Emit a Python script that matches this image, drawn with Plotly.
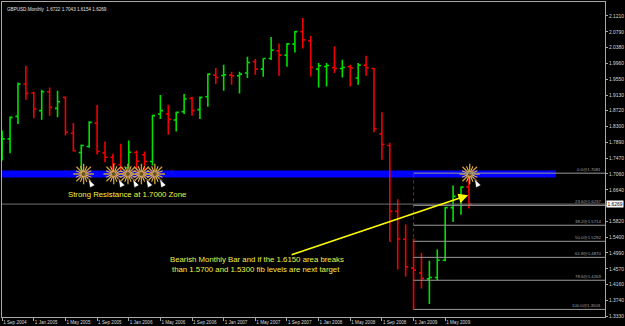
import plotly.graph_objects as go
import pandas as pd

# ---------------- data ----------------
months = [str(p) for p in pd.period_range("2004-09", "2009-08", freq="M")]

opens = [1.7676, 1.7982, 1.8573, 1.9422, 1.9186, 1.8723, 1.9220, 1.8783, 1.9071, 1.8128,
         1.7623, 1.7780, 1.8390, 1.7615, 1.7500, 1.7301, 1.7223, 1.7623, 1.7563, 1.7388,
         1.8636, 1.8636, 1.8479, 1.8697, 1.9045, 1.8749, 1.9089, 1.9657, 1.9647, 1.9657,
         1.9639, 1.9710, 2.0005, 1.9814, 2.0092, 2.0293, 2.0181, 2.0469, 2.0799, 2.0555,
         1.9814, 1.9882, 1.9856, 1.9830, 1.9875, 1.9579, 1.9919, 1.9830, 1.8113, 1.7806,
         1.6079, 1.5346, 1.4587, 1.4464, 1.4306, 1.4343, 1.4796, 1.6176, 1.6471, 1.6722]
highs = [1.8199, 1.8566, 1.9464, 1.9901, 1.9220, 1.9272, 1.9333, 1.9246, 1.9089, 1.8401,
         1.7833, 1.8443, 1.8872, 1.7911, 1.7589, 1.7851, 1.7937, 1.7676, 1.7649, 1.8618,
         1.9134, 1.8880, 1.8697, 1.9160, 1.9089, 1.9097, 1.9699, 1.9841, 1.9927, 1.9744,
         1.9744, 2.0136, 2.0076, 2.0102, 2.0660, 2.0485, 2.0495, 2.0817, 2.1157, 2.0686,
         1.9971, 1.9971, 2.0406, 2.0058, 1.9927, 1.9971, 2.0162, 1.9841, 1.8678, 1.7877,
         1.6393, 1.5731, 1.5364, 1.4987, 1.4778, 1.5076, 1.6191, 1.6759, 1.6733, 1.7043]
lows = [1.7414, 1.7605, 1.8375, 1.9011, 1.8521, 1.8487, 1.8592, 1.8547, 1.8068, 1.7649,
        1.7060, 1.7746, 1.7571, 1.7369, 1.7100, 1.7152, 1.7197, 1.7152, 1.7152, 1.7283,
        1.8505, 1.8087, 1.8173, 1.8636, 1.8592, 1.8505, 1.8827, 1.9422, 1.9246, 1.9403,
        1.9176, 1.9579, 1.9665, 1.9613, 2.0050, 1.9639, 1.9875, 2.0249, 2.0354, 1.9621,
        1.9333, 1.9359, 1.9710, 1.9595, 1.9359, 1.9403, 1.9639, 1.8155, 1.7432, 1.5275,
        1.4553, 1.4359, 1.3503, 1.4055, 1.3644, 1.4272, 1.4770, 1.5799, 1.5992, 1.6154]
closes = [1.7982, 1.8547, 1.9422, 1.9176, 1.8767, 1.9220, 1.8809, 1.8958, 1.8155, 1.7668,
          1.7806, 1.8416, 1.7649, 1.7500, 1.7327, 1.7231, 1.7631, 1.7395, 1.7388, 1.8592,
          1.8723, 1.8495, 1.8678, 1.9029, 1.8723, 1.9071, 1.9683, 1.9595, 1.9665, 1.9639,
          1.9683, 1.9987, 1.9814, 2.0092, 2.0312, 2.0181, 2.0477, 2.0799, 2.0581, 1.9856,
          1.9901, 1.9909, 1.9830, 1.9856, 1.9841, 1.9919, 1.9841, 1.8244, 1.7833, 1.6079,
          1.5354, 1.4621, 1.4534, 1.4317, 1.4343, 1.4796, 1.6176, 1.6471, 1.6715, 1.6269]

x_tick_months = ["2004-09", "2005-01", "2005-05", "2005-09", "2006-01", "2006-05", "2006-09",
                 "2007-01", "2007-05", "2007-09", "2008-01", "2008-05", "2008-09", "2009-01", "2009-05"]
x_tick_labels = ["1 Sep 2004", "1 Jan 2005", "1 May 2005", "1 Sep 2005", "1 Jan 2006", "1 May 2006",
                 "1 Sep 2006", "1 Jan 2007", "1 May 2007", "1 Sep 2007", "1 Jan 2008", "1 May 2008",
                 "1 Sep 2008", "1 Jan 2009", "1 May 2009"]
y_tick_values = [2.1210, 2.0790, 2.0380, 1.9960, 1.9550, 1.9130, 1.8720, 1.8300, 1.7890, 1.7470,
                 1.7060, 1.6640, 1.6230, 1.5820, 1.5400, 1.4990, 1.4570, 1.4160, 1.3740, 1.3330]

# Fibonacci retracement drawn on the chart
fib_month = "2009-01"
fib_low = 1.3503
fib_high = 1.7081
fib_ratios = [0.0, 23.6, 38.2, 50.0, 61.8, 78.6, 100.0]

# resistance zone
zone_low, zone_high = 1.6969, 1.7152
zone_end_month = 70.0  # month index where the blue band stops

# click markers (month index, price)
star_x = [10.3, 14.1, 15.9, 17.6, 19.3, 59.1]
star_y = [1.7060, 1.7060, 1.7060, 1.7060, 1.7060, 1.7060]

# ---------------- figure ----------------
x = list(range(len(months)))
X_MAX = 76.2
Y_MIN, Y_MAX = 1.3304, 2.1576
GRAY = "#A8A8A8"
YELLOW = "#F0F04A"
GOLD = "#C89A3A"
FONT = "Liberation Sans"

fig = go.Figure()

fig.add_trace(go.Ohlc(
    x=x, open=opens, high=highs, low=lows, close=closes,
    increasing=dict(line=dict(color="#00E000", width=1.6)),
    decreasing=dict(line=dict(color="#F00000", width=1.6)),
    tickwidth=0.32, showlegend=False, hoverinfo="skip"))

shapes = []
# blue resistance band
shapes.append(dict(type="rect", xref="x", yref="y", x0=0, x1=zone_end_month,
                   y0=zone_low, y1=zone_high, fillcolor="#0000FF", line=dict(width=0),
                   layer="below"))
# bid line
shapes.append(dict(type="line", xref="paper", yref="y", x0=0, x1=1,
                   y0=closes[-1], y1=closes[-1], line=dict(color="#707070", width=1)))
# fib lines
fib_x = months.index(fib_month)
fib_levels = [fib_high - r / 100.0 * (fib_high - fib_low) for r in fib_ratios]
for lvl in fib_levels:
    shapes.append(dict(type="line", xref="x", yref="y", x0=fib_x, x1=X_MAX,
                       y0=lvl, y1=lvl, line=dict(color="#9A9A9A", width=1)))
# fib base line (dotted red)
shapes.append(dict(type="line", xref="x", yref="y", x0=fib_x, x1=fib_x,
                   y0=fib_low, y1=fib_high, line=dict(color="#E00000", width=1, dash="dot"),
                   layer="below"))

annotations = []
# title
annotations.append(dict(xref="paper", yref="paper", x=0, y=1, xanchor="left", yanchor="top",
                        xshift=3, yshift=-3, showarrow=False,
                        text="GBPUSD,Monthly  %.4f %.4f %.4f %.4f" % (opens[-1], highs[-1], lows[-1], closes[-1]),
                        font=dict(family=FONT, size=4.6, color="#E0E0E0")))
# fib labels
for r, lvl in zip(fib_ratios, fib_levels):
    annotations.append(dict(xref="paper", yref="y", x=1, y=lvl, xanchor="right", yanchor="bottom",
                            xshift=-2, yshift=-1, showarrow=False,
                            text="%.1f@%.4f" % (r, lvl),
                            font=dict(family=FONT, size=4.3, color="#A0A0A0")))
# current price box (covers the axis label underneath it)
annotations.append(dict(xref="paper", yref="y", x=1, y=closes[-1], xanchor="left", yanchor="middle",
                        xshift=1, showarrow=False, text="%.4f" % closes[-1],
                        bgcolor="#FFFFFF", borderpad=0.5,
                        font=dict(family=FONT, size=4.9, color="#000000")))
# text notes
annotations.append(dict(xref="x", yref="y", x=8.05, y=1.6516, xanchor="left", yanchor="middle",
                        showarrow=False, text="Strong Resistance at 1.7000 Zone",
                        font=dict(family=FONT, size=7.8, color=YELLOW)))
annotations.append(dict(xref="x", yref="y", x=43.45, y=1.4822, xanchor="right", yanchor="middle",
                        showarrow=False, text="Bearish Monthly Bar and if the 1.6150 area breaks",
                        font=dict(family=FONT, size=7.8, color=YELLOW)))
annotations.append(dict(xref="x", yref="y", x=42.9, y=1.4560, xanchor="right", yanchor="middle",
                        showarrow=False, text="than 1.5700 and 1.5300 fib levels are next target",
                        font=dict(family=FONT, size=7.8, color=YELLOW)))
# yellow arrow
annotations.append(dict(xref="x", yref="y", axref="x", ayref="y",
                        x=58.9, y=1.6500, ax=36.4, ay=1.4927, text="",
                        showarrow=True, arrowhead=2, arrowsize=1.2, arrowwidth=1.6,
                        arrowcolor="#FFFF00"))

# star bursts
fig.add_trace(go.Scatter(x=star_x, y=star_y, mode="markers", hoverinfo="skip", showlegend=False,
                         marker=dict(symbol="asterisk-open", size=17, color=GOLD,
                                     line=dict(color=GOLD, width=1.4))))
fig.add_trace(go.Scatter(x=star_x, y=star_y, mode="markers", hoverinfo="skip", showlegend=False,
                         marker=dict(symbol="asterisk-open", size=14, angle=22.5, color="#E0B050",
                                     line=dict(color="#E0B050", width=1.1))))
fig.add_trace(go.Scatter(x=star_x, y=star_y, mode="markers", hoverinfo="skip", showlegend=False,
                         marker=dict(symbol="circle", size=4, color="#6A5020",
                                     line=dict(width=0))))
# cursor arrows
fig.add_trace(go.Scatter(x=[v + 0.6 for v in star_x], y=[v - 0.013 for v in star_y],
                         mode="markers", hoverinfo="skip", showlegend=False,
                         marker=dict(symbol="arrow", size=9, angle=-28, color="#FFFFFF",
                                     line=dict(color="#000000", width=0.6))))

fig.update_layout(
    width=625, height=326,
    margin=dict(l=1, r=19, t=1, b=9),
    paper_bgcolor="#000000", plot_bgcolor="#000000",
    shapes=shapes, annotations=annotations,
    showlegend=False,
    xaxis=dict(range=[-0.02, X_MAX], showgrid=False, zeroline=False,
               tickmode="array", tickvals=[months.index(m) for m in x_tick_months],
               ticktext=x_tick_labels, ticks="outside", ticklen=3, tickcolor=GRAY,
               ticklabelposition="outside right", tickangle=0,
               tickfont=dict(family=FONT, size=4.6, color="#D8D8D8"),
               showline=True, linecolor=GRAY, linewidth=1, mirror=True,
               rangeslider=dict(visible=False), fixedrange=True),
    yaxis=dict(range=[Y_MIN, Y_MAX], side="right", showgrid=False, zeroline=False,
               tickmode="array", tickvals=y_tick_values,
               ticktext=["" if abs(v - closes[-1]) < 0.008 else "%.4f" % v for v in y_tick_values],
               ticks="outside", ticklen=2, tickcolor=GRAY,
               tickfont=dict(family=FONT, size=4.9, color="#D8D8D8"),
               showline=True, linecolor=GRAY, linewidth=1, mirror=True, fixedrange=True),
)

fig.write_html("out.html")
